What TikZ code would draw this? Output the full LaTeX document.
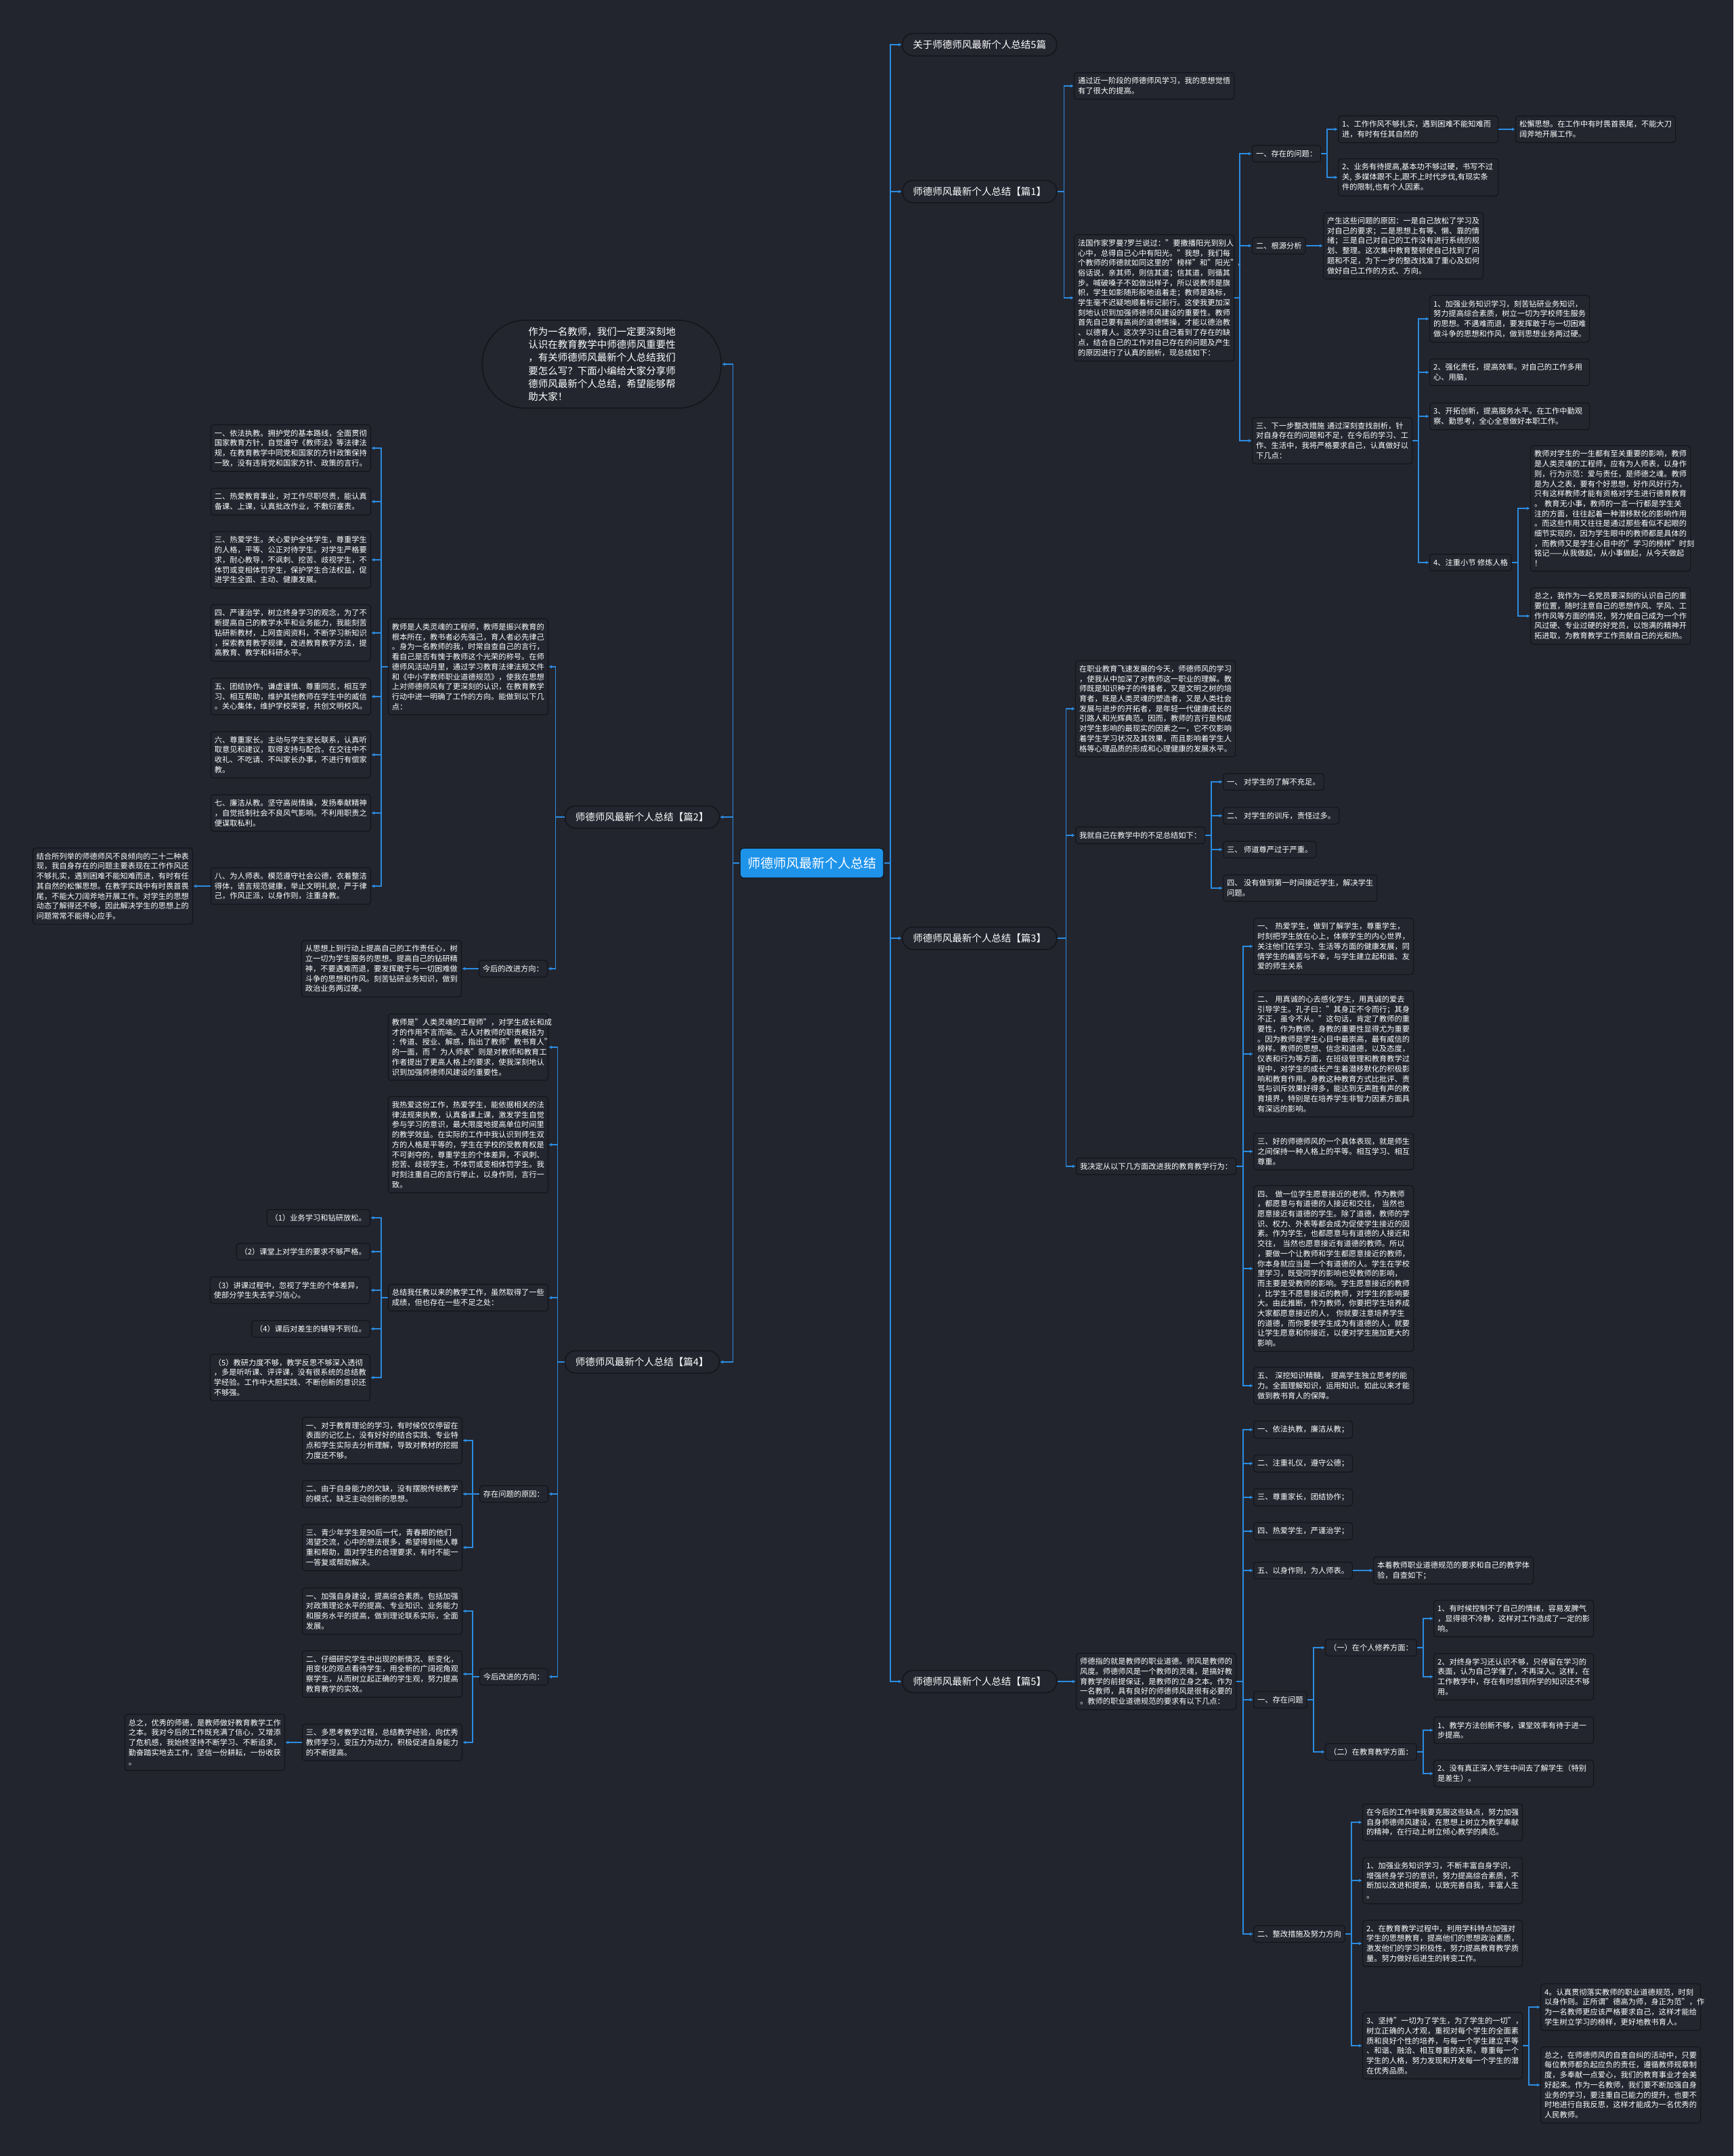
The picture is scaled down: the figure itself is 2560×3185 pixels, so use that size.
\documentclass[tikz,border=0pt]{standalone}
\usepackage{fontspec}
\setmainfont{Noto Sans CJK SC}
\usetikzlibrary{arrows.meta,positioning}
\definecolor{bgdark}{HTML}{22252E}
\definecolor{boxdark}{HTML}{23262F}
\definecolor{rimdark}{HTML}{13151A}
\definecolor{wireblue}{HTML}{2B8CE2}
\definecolor{rootblue}{HTML}{1E93EA}

\begin{document}
\begin{tikzpicture}[x=1pt, y=-1pt,
  every node/.style={font=\fontsize{11.25}{14.7}\selectfont, text=white, align=left},
  root/.style ={fill=rootblue, draw=rimdark, line width=1.2pt, rounded corners=5pt, minimum width=212pt, minimum height=44pt, inner sep=0pt, align=center, font=\fontsize{19}{22}\selectfont},
  part/.style ={fill=boxdark, draw=rimdark, line width=1.5pt, rounded corners=16pt, minimum width=228pt, minimum height=33pt, align=center, font=\fontsize{14.5}{17}\selectfont},
  lead/.style ={fill=boxdark, draw=rimdark, line width=1.5pt, rounded corners=64pt, text width=217pt, inner xsep=68pt, inner ysep=10pt, font=\fontsize{14.5}{19.3}\selectfont},
  lab/.style  ={fill=boxdark, draw=rimdark, line width=1.2pt, rounded corners=4pt, inner xsep=5.5pt, inner ysep=7pt},
  txt/.style  ={lab, text width=225pt},
  stem/.style ={draw=wireblue, line width=1.8pt},
  link/.style ={stem, -{Latex[length=5pt,width=5pt]}},
]
\fill[bgdark] (0,0) rectangle (2560,3185);
\useasboundingbox (0,0) rectangle (2560,3185);

% centre
\node[root] (root) at (1199,1275) {师德师风最新个人总结};

% ---------- right side ----------
\node[part, anchor=west] (title) at (1332,66)   {关于师德师风最新个人总结5篇};
\node[part, anchor=west] (p1)    at (1332,283)  {师德师风最新个人总结【篇1】};
\node[part, anchor=west] (p3)    at (1332,1386) {师德师风最新个人总结【篇3】};
\node[part, anchor=west] (p5)    at (1332,2484) {师德师风最新个人总结【篇5】};

% 篇1
\node[txt, anchor=west] (p1a) at (1586,127) {通过近一阶段的师德师风学习，我的思想觉悟\\有了很大的提高。};
\node[txt, anchor=west] (p1b) at (1586,440) {法国作家罗曼?罗兰说过："要撒播阳光到别人\\心中，总得自己心中有阳光。"我想，我们每\\个教师的师德就如同这里的"榜样"和"阳光"。\\俗话说，亲其师，则信其道；信其道，则循其\\步。喊破嗓子不如做出样子，所以说教师是旗\\帜，学生如影随形般地追着走；教师是路标，\\学生毫不迟疑地顺着标记前行。这使我更加深\\刻地认识到加强师德师风建设的重要性。教师\\首先自己要有高尚的道德情操，才能以德治教\\、以德育人。这次学习让自己看到了存在的缺\\点，结合自己的工作对自己存在的问题及产生\\的原因进行了认真的剖析，现总结如下：};
\node[lab, anchor=west] (p1c) at (1849,227) {一、存在的问题：};
\node[txt, anchor=west] (p1c1) at (1976,191) {1、工作作风不够扎实，遇到困难不能知难而\\进，有时有任其自然的};
\node[txt, anchor=west] (p1c1a) at (2238,191) {松懈思想。在工作中有时畏首畏尾，不能大刀\\阔斧地开展工作。};
\node[txt, anchor=west] (p1c2) at (1976,262) {2、业务有待提高,基本功不够过硬，书写不过\\关,~多媒体跟不上,跟不上时代步伐,有现实条\\件的限制,也有个人因素。};
\node[lab, anchor=west] (p1d) at (1849,363) {二、根源分析};
\node[txt, anchor=west] (p1d1) at (1954,363) {产生这些问题的原因：一是自己放松了学习及\\对自己的要求；二是思想上有等、懒、靠的情\\绪；三是自己对自己的工作没有进行系统的规\\划、整理。这次集中教育整顿使自己找到了问\\题和不足，为下一步的整改找准了重心及如何\\做好自己工作的方式、方向。};
\node[txt, anchor=west] (p1e) at (1849,651) {三、下一步整改措施~通过深刻查找剖析，针\\对自身存在的问题和不足，在今后的学习、工\\作、生活中，我将严格要求自己，认真做好以\\下几点：};
\node[txt, anchor=west] (p1e1) at (2111,471) {1、加强业务知识学习，刻苦钻研业务知识，\\努力提高综合素质，树立一切为学校师生服务\\的思想。不遇难而退，要发挥敢于与一切困难\\做斗争的思想和作风，做到思想业务两过硬。};
\node[txt, anchor=west] (p1e2) at (2111,550) {2、强化责任，提高效率。对自己的工作多用\\心、用脑，};
\node[txt, anchor=west] (p1e3) at (2111,615) {3、开拓创新，提高服务水平。在工作中勤观\\察、勤思考，全心全意做好本职工作。};
\node[lab, anchor=west] (p1e4) at (2111,831) {4、注重小节 修炼人格};
\node[txt, anchor=west] (p1e4a) at (2260,751) {教师对学生的一生都有至关重要的影响，教师\\是人类灵魂的工程师，应有为人师表，以身作\\则，行为示范：爱与责任，是师德之魂。教师\\是为人之表，要有个好思想，好作风好行为，\\只有这样教师才能有资格对学生进行德育教育\\。~教育无小事，教师的一言一行都是学生关\\注的方面，往往起着一种潜移默化的影响作用\\。而这些作用又往往是通过那些看似不起眼的\\细节实现的，因为学生眼中的教师都是具体的\\，而教师又是学生心目中的"学习的榜样"时刻\\铭记——从我做起，从小事做起，从今天做起\\！};
\node[txt, anchor=west] (p1e4b) at (2260,910) {总之，我作为一名党员要深刻的认识自己的重\\要位置，随时注意自己的思想作风、学风、工\\作作风等方面的情况，努力使自己成为一个作\\风过硬、专业过硬的好党员，以饱满的精神开\\拓进取，为教育教学工作贡献自己的光和热。};

% 篇3
\node[txt, anchor=west] (p3a) at (1588,1047) {在职业教育飞速发展的今天，师德师风的学习\\，使我从中加深了对教师这一职业的理解。教\\师既是知识种子的传播者，又是文明之树的培\\育者，既是人类灵魂的塑造者，又是人类社会\\发展与进步的开拓者，是年轻一代健康成长的\\引路人和光辉典范。因而，教师的言行是构成\\对学生影响的最现实的因素之一，它不仅影响\\着学生学习状况及其效果，而且影响着学生人\\格等心理品质的形成和心理健康的发展水平。};
\node[lab, anchor=west] (p3b) at (1588,1234) {我就自己在教学中的不足总结如下：};
\node[lab, anchor=west] (p3b1) at (1806,1155) {一、 对学生的了解不充足。};
\node[lab, anchor=west] (p3b2) at (1806,1205) {二、 对学生的训斥，责怪过多。};
\node[lab, anchor=west] (p3b3) at (1806,1255) {三、 师道尊严过于严重。};
\node[lab, anchor=west] (p3b4) at (1806,1312) {四、~没有做到第一时间接近学生，解决学生\\问题。};
\node[lab, anchor=west] (p3c) at (1589,1723) {我决定从以下几方面改进我的教育教学行为：};
\node[txt, anchor=west] (p3c1) at (1851,1398) {一、~热爱学生，做到了解学生，尊重学生，\\时刻把学生放在心上，体察学生的内心世界，\\关注他们在学习、生活等方面的健康发展，同\\情学生的痛苦与不幸，与学生建立起和谐、友\\爱的师生关系};
\node[txt, anchor=west] (p3c2) at (1851,1557) {二、~用真诚的心去感化学生，用真诚的爱去\\引导学生。孔子曰："其身正不令而行；其身\\不正，虽令不从。"这句话，肯定了教师的重\\要性，作为教师，身教的重要性显得尤为重要\\。因为教师是学生心目中最崇高，最有威信的\\榜样。教师的思想、信念和道德，以及态度，\\仪表和行为等方面，在班级管理和教育教学过\\程中，对学生的成长产生着潜移默化的积极影\\响和教育作用。身教这种教育方式比批评、责\\骂与训斥效果好得多，能达到无声胜有声的教\\育境界，特别是在培养学生非智力因素方面具\\有深远的影响。};
\node[txt, anchor=west] (p3c3) at (1851,1701) {三、好的师德师风的一个具体表现，就是师生\\之间保持一种人格上的平等。相互学习、相互\\尊重。};
\node[txt, anchor=west] (p3c4) at (1851,1874) {四、~做一位学生愿意接近的老师。作为教师\\，都愿意与有道德的人接近和交往，~当然也\\愿意接近有道德的学生。除了道德，教师的学\\识、权力、外表等都会成为促使学生接近的因\\素。作为学生，也都愿意与有道德的人接近和\\交往，~当然也愿意接近有道德的教师。所以\\，要做一个让教师和学生都愿意接近的教师，\\你本身就应当是一个有道德的人。学生在学校\\里学习，既受同学的影响也受教师的影响，\\而主要是受教师的影响。学生愿意接近的教师\\，比学生不愿意接近的教师，对学生的影响要\\大。由此推断，作为教师，你要把学生培养成\\大家都愿意接近的人，~你就要注意培养学生\\的道德，而你要使学生成为有道德的人，就要\\让学生愿意和你接近，以便对学生施加更大的\\影响。};
\node[txt, anchor=west] (p3c5) at (1851,2047) {五、~深挖知识精髓，~提高学生独立思考的能\\力。全面理解知识，运用知识。如此以来才能\\做到教书育人的保障。};

% 篇5
\node[txt, anchor=west] (p5a) at (1589,2484) {师德指的就是教师的职业道德。师风是教师的\\风度。师德师风是一个教师的灵魂，是搞好教\\育教学的前提保证，是教师的立身之本。作为\\一名教师，具有良好的师德师风是很有必要的\\。教师的职业道德规范的要求有以下几点：};
\node[lab, anchor=west] (p5b1) at (1851,2112) {一、依法执教，廉洁从教；};
\node[lab, anchor=west] (p5b2) at (1851,2162) {二、注重礼仪，遵守公德；};
\node[lab, anchor=west] (p5b3) at (1851,2212) {三、尊重家长，团结协作；};
\node[lab, anchor=west] (p5b4) at (1851,2262) {四、热爱学生，严谨治学；};
\node[lab, anchor=west] (p5b5) at (1851,2320) {五、以身作则，为人师表。};
\node[txt, anchor=west] (p5b5a) at (2028,2320) {本着教师职业道德规范的要求和自己的教学体\\验，自查如下；};
\node[lab, anchor=west] (p5c) at (1851,2511) {一、存在问题};
\node[lab, anchor=west] (p5c1) at (1957,2434) {（一）在个人修养方面：};
\node[txt, anchor=west] (p5c11) at (2117,2391) {1、有时候控制不了自己的情绪，容易发脾气\\，显得很不冷静，这样对工作造成了一定的影\\响。};
\node[txt, anchor=west] (p5c12) at (2117,2477) {2、对终身学习还认识不够，只停留在学习的\\表面，认为自己学懂了，不再深入。这样，在\\工作教学中，存在有时感到所学的知识还不够\\用。};
\node[lab, anchor=west] (p5c2) at (1957,2588) {（二）在教育教学方面：};
\node[txt, anchor=west] (p5c21) at (2117,2556) {1、教学方法创新不够，课堂效率有待于进一\\步提高。};
\node[txt, anchor=west] (p5c22) at (2117,2620) {2、没有真正深入学生中间去了解学生（特别\\是差生）。};
\node[lab, anchor=west] (p5d) at (1851,2857) {二、整改措施及努力方向};
\node[txt, anchor=west] (p5d1) at (2012,2692) {在今后的工作中我要克服这些缺点，努力加强\\自身师德师风建设，在思想上树立为教学奉献\\的精神，在行动上树立倾心教学的典范。};
\node[txt, anchor=west] (p5d2) at (2012,2778) {1、加强业务知识学习，不断丰富自身学识，\\增强终身学习的意识，努力提高综合素质，不\\断加以改进和提高，以致完善自我，丰富人生\\。};
\node[txt, anchor=west] (p5d3) at (2012,2871) {2、在教育教学过程中，利用学科特点加强对\\学生的思想教育，提高他们的思想政治素质，\\激发他们的学习积极性，努力提高教育教学质\\量。努力做好后进生的转变工作。};
\node[txt, anchor=west] (p5d4) at (2012,3022) {3、坚持"一切为了学生，为了学生的一切"，\\树立正确的人才观，重视对每个学生的全面素\\质和良好个性的培养，与每一个学生建立平等\\、和谐、融洽、相互尊重的关系，尊重每一个\\学生的人格，努力发现和开发每一个学生的潜\\在优秀品质。};
\node[txt, anchor=west] (p5d41) at (2275,2965) {4。认真贯彻落实教师的职业道德规范，时刻\\以身作则。正所谓"德高为师，身正为范"，作\\为一名教师更应该严格要求自己，这样才能给\\学生树立学习的榜样，更好地教书育人。};
\node[txt, anchor=west] (p5d42) at (2275,3080) {总之，在师德师风的自查自纠的活动中，只要\\每位教师都负起应负的责任，遵循教师规章制\\度，多奉献一点爱心，我们的教育事业才会美\\好起来。作为一名教师，我们要不断加强自身\\业务的学习，要注重自己能力的提升，也要不\\时地进行自我反思，这样才能成为一名优秀的\\人民教师。};

% ---------- left side ----------
\node[lead, anchor=east] (lead) at (1066,538) {作为一名教师，我们一定要深刻地\\认识在教育教学中师德师风重要性\\，有关师德师风最新个人总结我们\\要怎么写？下面小编给大家分享师\\德师风最新个人总结，希望能够帮\\助大家！};
\node[part, anchor=east] (p2) at (1063,1207) {师德师风最新个人总结【篇2】};
\node[part, anchor=east] (p4) at (1063,2012) {师德师风最新个人总结【篇4】};

% 篇2
\node[txt, anchor=east] (p2a) at (810,985) {教师是人类灵魂的工程师，教师是振兴教育的\\根本所在，教书者必先强己，育人者必先律己\\。身为一名教师的我，时常自查自己的言行，\\看自己是否有愧于教师这个光荣的称号。在师\\德师风活动月里，通过学习教育法律法规文件\\和《中小学教师职业道德规范》，使我在思想\\上对师德师风有了更深刻的认识，在教育教学\\行动中进一明确了工作的方向。能做到以下几\\点：};
\node[txt, anchor=east] (p2a1) at (548,662) {一、依法执教。拥护党的基本路线，全面贯彻\\国家教育方针，自觉遵守《教师法》等法律法\\规，在教育教学中同党和国家的方针政策保持\\一致，没有违背党和国家方针、政策的言行。};
\node[txt, anchor=east] (p2a2) at (548,741) {二、热爱教育事业，对工作尽职尽责，能认真\\备课、上课，认真批改作业，不敷衍塞责。};
\node[txt, anchor=east] (p2a3) at (548,827) {三、热爱学生。关心爱护全体学生，尊重学生\\的人格，平等、公正对待学生。对学生严格要\\求，耐心教导，不讽刺、挖苦、歧视学生，不\\体罚或变相体罚学生，保护学生合法权益，促\\进学生全面、主动、健康发展。};
\node[txt, anchor=east] (p2a4) at (548,935) {四、严谨治学，树立终身学习的观念，为了不\\断提高自己的教学水平和业务能力，我能刻苦\\钻研新教材，上网查阅资料，不断学习新知识\\，探索教育教学规律，改进教育教学方法，提\\高教育、教学和科研水平。};
\node[txt, anchor=east] (p2a5) at (548,1029) {五、团结协作。谦虚谨慎、尊重同志，相互学\\习、相互帮助，维护其他教师在学生中的威信\\。关心集体，维护学校荣誉，共创文明校风。};
\node[txt, anchor=east] (p2a6) at (548,1115) {六、尊重家长。主动与学生家长联系，认真听\\取意见和建议，取得支持与配合。在交往中不\\收礼、不吃请、不叫家长办事，不进行有偿家\\教。};
\node[txt, anchor=east] (p2a7) at (548,1201) {七、廉洁从教。坚守高尚情操，发扬奉献精神\\，自觉抵制社会不良风气影响。不利用职责之\\便谋取私利。};
\node[txt, anchor=east] (p2a8) at (548,1309) {八、为人师表。模范遵守社会公德，衣着整洁\\得体，语言规范健康，举止文明礼貌，严于律\\己，作风正派，以身作则，注重身教。};
\node[txt, anchor=east] (p2a8x) at (285,1309) {结合所列举的师德师风不良倾向的二十二种表\\现，我自身存在的问题主要表现在工作作风还\\不够扎实，遇到困难不能知难而进，有时有任\\其自然的松懈思想。在教学实践中有时畏首畏\\尾，不能大刀阔斧地开展工作。对学生的思想\\动态了解得还不够，因此解决学生的思想上的\\问题常常不能得心应手。};
\node[lab, anchor=east] (p2b) at (809,1431) {今后的改进方向：};
\node[txt, anchor=east] (p2b1) at (682,1431) {从思想上到行动上提高自己的工作责任心，树\\立一切为学生服务的思想。提高自己的钻研精\\神，不要遇难而退，要发挥敢于与一切困难做\\斗争的思想和作风。刻苦钻研业务知识，做到\\政治业务两过硬。};

% 篇4
\node[txt, anchor=east] (p4a) at (810,1547) {教师是"人类灵魂的工程师"，对学生成长和成\\才的作用不言而喻。古人对教师的职责概括为\\：传道、授业、解惑，指出了教师"教书育人"\\的一面，而~"为人师表"则是对教师和教育工\\作者提出了更高人格上的要求，使我深刻地认\\识到加强师德师风建设的重要性。};
\node[txt, anchor=east] (p4b) at (810,1691) {我热爱这份工作，热爱学生，能依据相关的法\\律法规来执教，认真备课上课，激发学生自觉\\参与学习的意识，最大限度地提高单位时间里\\的教学效益。在实际的工作中我认识到师生双\\方的人格是平等的，学生在学校的受教育权是\\不可剥夺的，尊重学生的个体差异，不讽刺、\\挖苦、歧视学生，不体罚或变相体罚学生。我\\时刻注重自己的言行举止，以身作则，言行一\\致。};
\node[txt, anchor=east] (p4c) at (810,1917) {总结我任教以来的教学工作，虽然取得了一些\\成绩，但也存在一些不足之处：};
\node[lab, anchor=east] (p4c1) at (547,1799) {（1）业务学习和钻研放松。};
\node[lab, anchor=east] (p4c2) at (547,1849) {（2）课堂上对学生的要求不够严格。};
\node[txt, anchor=east] (p4c3) at (547,1906) {（3）讲课过程中，忽视了学生的个体差异，\\使部分学生失去学习信心。};
\node[lab, anchor=east] (p4c4) at (547,1963) {（4）课后对差生的辅导不到位。};
\node[txt, anchor=east] (p4c5) at (547,2035) {（5）教研力度不够，教学反思不够深入透彻\\，多是听听课、评评课，没有很系统的总结教\\学经验。工作中大胆实践、不断创新的意识还\\不够强。};
\node[lab, anchor=east] (p4d) at (810,2207) {存在问题的原因：};
\node[txt, anchor=east] (p4d1) at (683,2128) {一、对于教育理论的学习，有时候仅仅停留在\\表面的记忆上，没有好好的结合实践、专业特\\点和学生实际去分析理解，导致对教材的挖掘\\力度还不够。};
\node[txt, anchor=east] (p4d2) at (683,2207) {二、由于自身能力的欠缺，没有摆脱传统教学\\的模式，缺乏主动创新的思想。};
\node[txt, anchor=east] (p4d3) at (683,2286) {三、青少年学生是90后一代，青春期的他们\\渴望交流，心中的想法很多，希望得到他人尊\\重和帮助，面对学生的合理要求，有时不能一\\一答复或帮助解决。};
\node[lab, anchor=east] (p4e) at (810,2477) {今后改进的方向：};
\node[txt, anchor=east] (p4e1) at (683,2380) {一、加强自身建设，提高综合素质。包括加强\\对政策理论水平的提高、专业知识、业务能力\\和服务水平的提高，做到理论联系实际，全面\\发展。};
\node[txt, anchor=east] (p4e2) at (683,2473) {二、仔细研究学生中出现的新情况、新变化，\\用变化的观点看待学生，用全新的广阔视角观\\察学生，从而树立起正确的学生观，努力提高\\教育教学的实效。};
\node[txt, anchor=east] (p4e3) at (683,2574) {三、多思考教学过程，总结教学经验，向优秀\\教师学习，变压力为动力，积极促进自身能力\\的不断提高。};
\node[txt, anchor=east] (p4e3x) at (421,2574) {总之，优秀的师德，是教师做好教育教学工作\\之本。我对今后的工作既充满了信心，又增添\\了危机感，我始终坚持不断学习、不断追求，\\勤奋踏实地去工作，坚信一份耕耘，一份收获\\。};

% ---------- connectors ----------
\draw[stem] (root.east) -- ++(9,0) coordinate (rt);
\foreach \n in {title,p1,p3,p5} \draw[link] (rt) |- (\n.west);
\draw[stem] (root.west) -- ++(-10,0) coordinate (lt);
\foreach \n in {lead,p2,p4} \draw[link] (lt) |- (\n.east);

\foreach \n in {p1a,p1b} \draw[link] (p1.east) -- ++(10,0) |- (\n.west);
\foreach \n in {p1c,p1d,p1e} \draw[link] (p1b.east) -- ++(8,0) |- (\n.west);
\foreach \n in {p1c1,p1c2} \draw[link] (p1c.east) -- ++(9,0) |- (\n.west);
\draw[link] (p1c1.east) -- (p1c1a.west);
\draw[link] (p1d.east) -- (p1d1.west);
\foreach \n in {p1e1,p1e2,p1e3,p1e4} \draw[link] (p1e.east) -- ++(9,0) |- (\n.west);
\foreach \n in {p1e4a,p1e4b} \draw[link] (p1e4.east) -- ++(9,0) |- (\n.west);

\foreach \n in {p3a,p3b,p3c} \draw[link] (p3.east) -- ++(13,0) |- (\n.west);
\foreach \n in {p3b1,p3b2,p3b3,p3b4} \draw[link] (p3b.east) -- ++(9,0) |- (\n.west);
\foreach \n in {p3c1,p3c2,p3c3,p3c4,p3c5} \draw[link] (p3c.east) -- ++(10,0) |- (\n.west);

\draw[link] (p5.east) -- (p5a.west);
\foreach \n in {p5b1,p5b2,p5b3,p5b4,p5b5,p5c,p5d} \draw[link] (p5a.east) -- ++(10,0) |- (\n.west);
\draw[link] (p5b5.east) -- (p5b5a.west);
\foreach \n in {p5c1,p5c2} \draw[link] (p5c.east) -- ++(9,0) |- (\n.west);
\foreach \n in {p5c11,p5c12} \draw[link] (p5c1.east) -- ++(9,0) |- (\n.west);
\foreach \n in {p5c21,p5c22} \draw[link] (p5c2.east) -- ++(9,0) |- (\n.west);
\foreach \n in {p5d1,p5d2,p5d3,p5d4} \draw[link] (p5d.east) -- ++(9,0) |- (\n.west);
\foreach \n in {p5d41,p5d42} \draw[link] (p5d4.east) -- ++(9,0) |- (\n.west);

\foreach \n in {p2a,p2b} \draw[link] (p2.west) -- ++(-13,0) |- (\n.east);
\foreach \n in {p2a1,p2a2,p2a3,p2a4,p2a5,p2a6,p2a7,p2a8} \draw[link] (p2a.west) -- ++(-10,0) |- (\n.east);
\draw[link] (p2a8.west) -- (p2a8x.east);
\draw[link] (p2b.west) -- (p2b1.east);

\foreach \n in {p4a,p4b,p4c,p4d,p4e} \draw[link] (p4.west) -- ++(-10,0) |- (\n.east);
\foreach \n in {p4c1,p4c2,p4c3,p4c4,p4c5} \draw[link] (p4c.west) -- ++(-10,0) |- (\n.east);
\foreach \n in {p4d1,p4d2,p4d3} \draw[link] (p4d.west) -- ++(-10,0) |- (\n.east);
\foreach \n in {p4e1,p4e2,p4e3} \draw[link] (p4e.west) -- ++(-10,0) |- (\n.east);
\draw[link] (p4e3.west) -- (p4e3x.east);
\end{tikzpicture}
\end{document}
